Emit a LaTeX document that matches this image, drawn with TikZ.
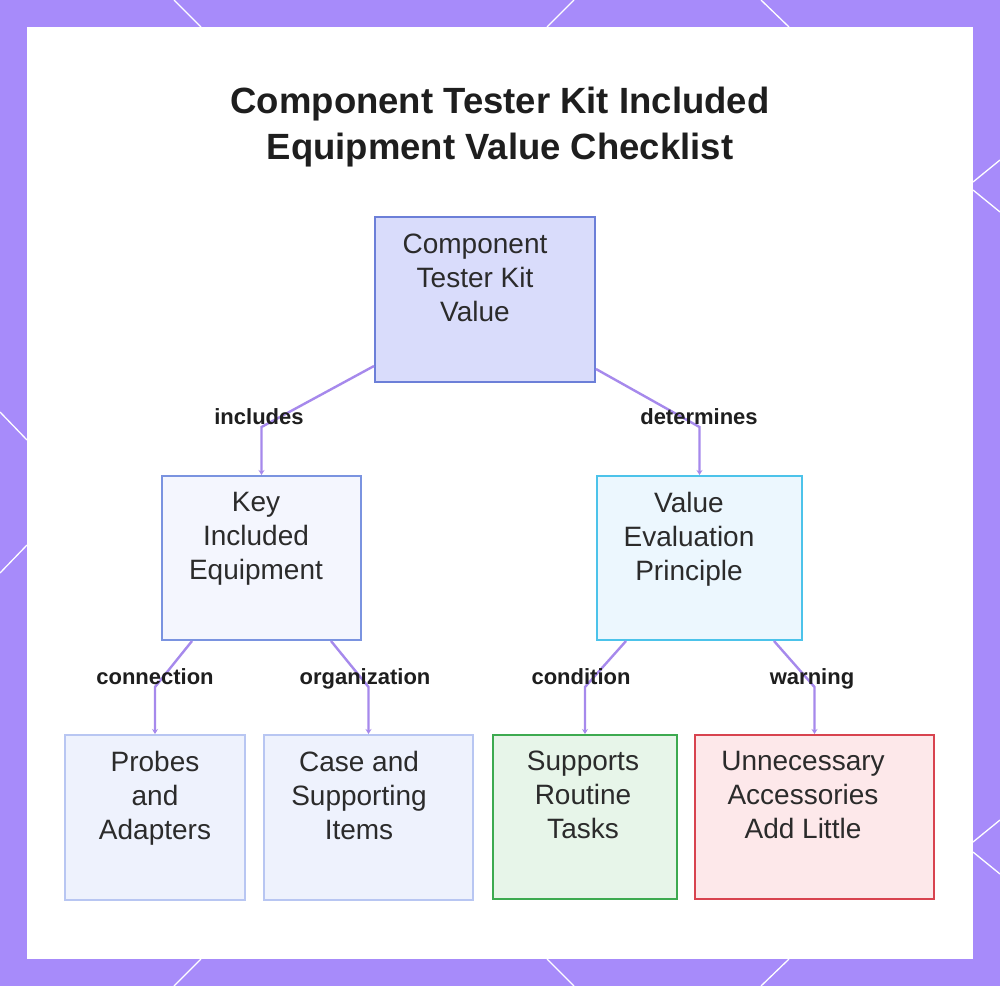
\documentclass[tikz,border=0pt]{standalone}
\usepackage{fontspec}
\setmainfont{Liberation Sans}
\usetikzlibrary{arrows.meta,calc}
\definecolor{framec}{HTML}{A78BFA}
\definecolor{connc}{HTML}{A689EC}
\definecolor{txtc}{HTML}{2B2B2B}
\definecolor{lblc}{HTML}{1E1E1E}
\definecolor{topfill}{HTML}{D9DCFB}
\definecolor{topline}{HTML}{6C7FD8}
\definecolor{keyfill}{HTML}{F4F6FE}
\definecolor{keyline}{HTML}{7A93E0}
\definecolor{valfill}{HTML}{ECF7FE}
\definecolor{valline}{HTML}{4CC3EA}
\definecolor{leaffill}{HTML}{EEF2FD}
\definecolor{leafline}{HTML}{B8C6F2}
\definecolor{grnfill}{HTML}{E7F5E9}
\definecolor{grnline}{HTML}{3DAA50}
\definecolor{redfill}{HTML}{FDE8EA}
\definecolor{redline}{HTML}{D8434F}
\begin{document}
\begin{tikzpicture}[x=1pt,y=-1pt,
  boxnode/.style={rectangle, line width=2pt, inner sep=0pt},
  ntext/.style={inner sep=0pt, align=center, text=txtc, font=\fontsize{28}{34}\selectfont},
  lbl/.style={inner sep=0pt, text=lblc, font=\bfseries\fontsize{22}{26}\selectfont},
  conn/.style={draw=connc, line width=2.4pt, line join=miter, -{Stealth[length=5pt,width=6pt]}},
  deco/.style={draw=white, line width=1.3pt}
]
\useasboundingbox (0,0) rectangle (1000,986);
\fill[framec] (0,0) rectangle (1000,986);
\fill[white] (27,27) rectangle (973,959);
% border decoration lines
\draw[deco] (174,0) -- (201,27);
\draw[deco] (574,0) -- (547,27);
\draw[deco] (761,0) -- (789,27);
\draw[deco] (174,986) -- (201,959);
\draw[deco] (574,986) -- (547,959);
\draw[deco] (761,986) -- (789,959);
\draw[deco] (0,412) -- (27,440);
\draw[deco] (27,545) -- (0,573);
\draw[deco] (1000,160) -- (973,182);
\draw[deco] (973,190) -- (1000,212);
\draw[deco] (1000,820) -- (973,842);
\draw[deco] (973,852) -- (1000,874);

% title
\node[inner sep=0pt, align=center, text=lblc, font=\bfseries\fontsize{36.5}{46}\selectfont, anchor=north] (title) at (500,87)
  {Component Tester Kit Included\\Equipment Value Checklist};

% boxes
\node[boxnode, fill=topfill, draw=topline, minimum width=220pt, minimum height=165pt] (top) at (485,299.5) {};
\node[boxnode, fill=keyfill, draw=keyline, minimum width=199pt, minimum height=164pt] (key) at (261.5,558) {};
\node[boxnode, fill=valfill, draw=valline, minimum width=205pt, minimum height=164pt] (val) at (699.5,558) {};
\node[boxnode, fill=leaffill, draw=leafline, minimum width=180pt, minimum height=165pt] (probes) at (155,817.5) {};
\node[boxnode, fill=leaffill, draw=leafline, minimum width=209pt, minimum height=165pt] (case) at (368.5,817.5) {};
\node[boxnode, fill=grnfill, draw=grnline, minimum width=184pt, minimum height=164pt] (supp) at (585,817) {};
\node[boxnode, fill=redfill, draw=redline, minimum width=239pt, minimum height=164pt] (unnec) at (814.5,817) {};

% box texts
\node[ntext, anchor=north] (toptxt) at (475,234) {Component\\Tester Kit\\Value};
\node[ntext, anchor=north] (keytxt) at (256,492) {Key\\Included\\Equipment};
\node[ntext, anchor=north] (valtxt) at (689,492) {Value\\Evaluation\\Principle};
\node[ntext, anchor=north] (probestxt) at (155,751) {Probes\\and\\Adapters};
\node[ntext, anchor=north] (casetxt) at (359,751) {Case and\\Supporting\\Items};
\node[ntext, anchor=north] (supptxt) at (583,751) {Supports\\Routine\\Tasks};
\node[ntext, anchor=north] (unnectxt) at (803,751) {Unnecessary\\Accessories\\Add Little};

% connectors
\draw[conn] ([yshift=17pt]top.south west) -- ($(key.north)+(0,-48)$) -- (key.north);
\draw[conn] ([yshift=14pt]top.south east) -- ($(val.north)+(0,-48)$) -- (val.north);
\draw[conn] ([xshift=31pt]key.south west) -- ($(probes.north)+(0,-47)$) -- (probes.north);
\draw[conn] ([xshift=-31pt]key.south east) -- ($(case.north)+(0,-47)$) -- (case.north);
\draw[conn] ([xshift=30pt]val.south west) -- ($(supp.north)+(0,-47)$) -- (supp.north);
\draw[conn] ([xshift=-29pt]val.south east) -- ($(unnec.north)+(0,-47)$) -- (unnec.north);

% connector labels
\node[lbl, anchor=base] (l1) at (259,424) {includes};
\node[lbl, anchor=base] (l2) at (699,424) {determines};
\node[lbl, anchor=base] (l3) at (155,684) {connection};
\node[lbl, anchor=base] (l4) at (365,684) {organization};
\node[lbl, anchor=base] (l5) at (581,684) {condition};
\node[lbl, anchor=base] (l6) at (812,684) {warning};
\end{tikzpicture}
\end{document}
